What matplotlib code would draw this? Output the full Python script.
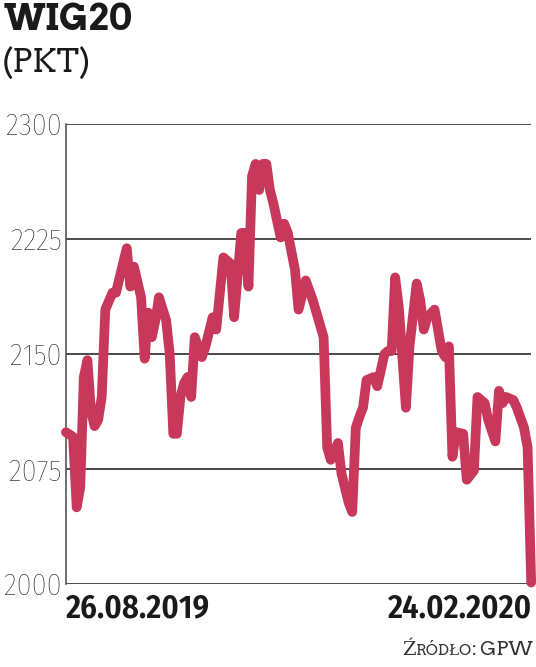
import matplotlib
matplotlib.use("Agg")
import matplotlib.pyplot as plt
from matplotlib.offsetbox import TextArea, HPacker, AnchoredOffsetbox

# WIG20 closing values (trading session number -> points)
sessions = [0, 2, 3, 4, 5, 6, 7, 8, 9, 10, 11, 13, 14, 15, 17, 18, 19, 21, 22, 23,
            24, 25, 26, 28, 29, 30, 31, 32, 33, 34, 35, 36, 38, 39, 41, 42, 44, 46, 47, 49,
            50, 51, 52, 53, 54, 55, 56, 57, 58, 60, 61, 62, 64, 65, 67, 69, 72, 73, 74, 76,
            77, 79, 80, 81, 82, 83, 84, 86, 87, 89, 90, 91, 92, 93, 95, 96, 98, 99, 100, 101,
            103, 105, 106, 107, 108, 109, 111, 112, 114, 115, 117, 118, 120, 121, 122, 123, 125, 126, 128, 129,
            130]
values = [2099, 2096, 2050, 2063, 2135, 2146, 2113, 2103, 2107, 2122, 2179, 2190, 2190, 2200, 2219, 2194, 2207, 2187, 2147, 2177,
          2161, 2172, 2187, 2172, 2150, 2098, 2098, 2122, 2131, 2135, 2122, 2161, 2148, 2155, 2174, 2166, 2213, 2209, 2174, 2229,
          2229, 2194, 2266, 2274, 2257, 2274, 2274, 2257, 2248, 2226, 2235, 2229, 2205, 2179, 2198, 2185, 2161, 2089, 2081, 2092,
          2072, 2053, 2047, 2102, 2109, 2115, 2133, 2135, 2129, 2150, 2152, 2152, 2200, 2181, 2115, 2155, 2196, 2185, 2166, 2174,
          2179, 2152, 2148, 2155, 2083, 2099, 2098, 2068, 2074, 2122, 2118, 2107, 2093, 2126, 2118, 2122, 2120, 2115, 2102, 2089,
          2001]

y_ticks = [2000, 2075, 2150, 2225, 2300]
date_labels = ["26.08.2019", "24.02.2020"]
title = "WIG20"
unit = "(PKT)"

line_color = "#c8385a"
grid_color = "#2b2b2b"
slab = ["Arvo", "DejaVu Serif"]

fig = plt.figure(figsize=(5.36, 6.67), dpi=100)
ax = fig.add_axes([0.123, 0.1244, 0.868, 0.6896])

ax.plot(sessions, values, color=line_color, lw=7, solid_joinstyle="round",
        solid_capstyle="round", clip_on=False, zorder=3)

ax.set_xlim(0, 130)
ax.set_ylim(2000, 2300)
ax.set_yticks(y_ticks)
ax.set_yticklabels([str(t) for t in y_ticks], family=["Fira Sans Condensed", "DejaVu Sans"],
                   weight="light", fontsize=22, color="#222222")
ax.tick_params(axis="y", length=0, pad=3)
ax.set_xticks([])
for t in y_ticks:
    ax.axhline(t, color=grid_color, lw=1.2, zorder=1)
for s in ["top", "right", "bottom"]:
    ax.spines[s].set_visible(False)
ax.spines["left"].set_color("#555555")
ax.spines["left"].set_linewidth(1.2)

fig.text(0.006, 0.996, title, family=slab, weight="bold",
         fontsize=26, va="top", ha="left", color="#1a1a1a")
fig.text(0.004, 0.93, unit, family=slab, fontsize=23,
         va="top", ha="left", color="#1a1a1a")

for lbl, xpos, ha in [(date_labels[0], 0.123, "left"), (date_labels[1], 0.993, "right")]:
    fig.text(xpos, 0.111, lbl, family=["Fira Sans Condensed", "DejaVu Sans"], weight="semibold",
             fontsize=23.5, va="top", ha=ha, color="#1a1a1a")

# "Źródło: GPW" in small caps
parts = [("Ź", 14), ("RÓDŁO", 11), (": GPW", 14)]
boxes = [TextArea(s, textprops=dict(family=slab, fontsize=fs, color="#333333"))
         for s, fs in parts]
src = HPacker(children=boxes, align="baseline", pad=0, sep=0)
anch = AnchoredOffsetbox(loc="lower right", child=src, pad=0, frameon=False,
                         bbox_to_anchor=(0.995, 0.012), bbox_transform=fig.transFigure,
                         borderpad=0)
fig.add_artist(anch)

fig.savefig("out.png", dpi=100, facecolor="white")
